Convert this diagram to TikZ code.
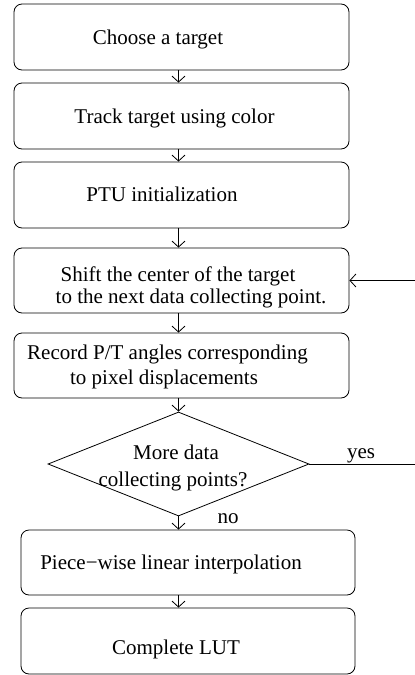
\documentclass[tikz,border=0pt]{standalone}
\usepackage{fontspec}
\setmainfont{Liberation Serif}
\usetikzlibrary{shapes.geometric,arrows.meta}
\begin{document}
\begin{tikzpicture}[x=1pt,y=-1pt,
  box/.style={draw,rounded corners=8pt,line width=0.8pt,minimum height=66pt,minimum width=335pt,inner sep=0pt},
  dia/.style={draw,diamond,line width=0.8pt,minimum width=261pt,minimum height=104pt,inner sep=0pt},
  lbl/.style={anchor=base,inner sep=0pt,font=\fontsize{21}{25}\selectfont},
  arr/.style={line width=0.8pt,-{Straight Barb[length=6pt,width=13pt]}},
  ln/.style={line width=0.8pt}]
\useasboundingbox (0,0) rectangle (415,675);
\node[box] (b1) at (181.5,37) {};
\node[box] (b2) at (181.5,116) {};
\node[box] (b3) at (181.5,195) {};
\node[box,minimum height=65pt] (b4) at (181.5,280.5) {};
\node[box,minimum height=65pt] (b5) at (181.5,365.5) {};
\node[dia] (d) at (178.5,464) {};
\node[box,minimum width=334pt,minimum height=65pt] (b6) at (188,562.5) {};
\node[box,minimum width=334pt] (b7) at (188,641) {};
\coordinate (e1) at (415,280.5);
\coordinate (e2) at (415,464);
% texts
\node[lbl] (t1) at (158,44) {Choose a target};
\node[lbl] (t2) at (174.5,123) {Track target using color};
\node[lbl] (t3) at (162,201.5) {PTU initialization};
\node[lbl] (t4a) at (178,281.5) {Shift the center of the target};
\node[lbl] (t4b) at (191,303) {to the next data collecting point.};
\node[lbl] (t5a) at (167.5,359) {Record P/T angles corresponding};
\node[lbl] (t5b) at (164,384) {to pixel displacements};
\node[lbl] (t6a) at (176,459) {More data};
\node[lbl] (t6b) at (173,486) {collecting points?};
\node[lbl] (tyes) at (361,458) {yes};
\node[lbl] (tno) at (228,523) {no};
\node[lbl] (t7) at (171,569) {Piece−wise linear interpolation};
\node[lbl] (t8) at (176,654) {Complete LUT};
% connectors
\draw[arr] (b1.south -| d.center) -- (b2.north -| d.center);
\draw[arr] (b2.south -| d.center) -- (b3.north -| d.center);
\draw[arr] (b3.south -| d.center) -- (b4.north -| d.center);
\draw[arr] (b4.south -| d.center) -- (b5.north -| d.center);
\draw[arr] (b5.south -| d.center) -- (d.north);
\draw[arr] (d.south) -- (b6.north -| d.center);
\draw[arr] (b6.south -| d.center) -- (b7.north -| d.center);
\draw[arr] (e1) -- (b4.east);
\draw[ln] (d.east) -- (e2);
\end{tikzpicture}
\end{document}
